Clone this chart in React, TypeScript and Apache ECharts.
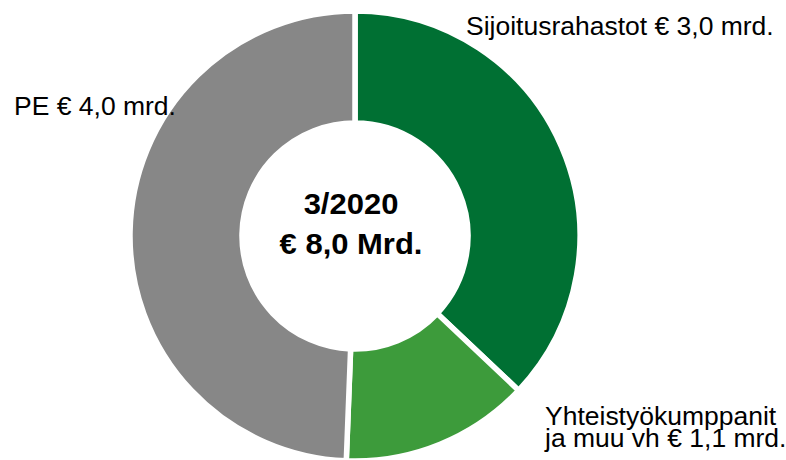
import React, { useEffect, useRef } from "react";
import * as echarts from "echarts";

const categories = ["Sijoitusrahastot", "Yhteistyökumppanit\nja muu vh", "PE"];
const values = [3.0, 1.1, 4.0];
const colors = ["#007033", "#3d9b3b", "#878787"];
const centerTitle = "3/2020";
const centerTotal = "€ 8,0 Mrd.";

const fmt = (v: number) => v.toFixed(1).replace(".", ",");
const labelText = (i: number) => `${categories[i]} € ${fmt(values[i])} mrd.`;

const FONT = "'Liberation Sans', Arial, sans-serif";

export default function App() {
  const ref = useRef<HTMLDivElement>(null);
  useEffect(() => {
    document.body.style.margin = "0";
    const chart = echarts.init(ref.current!, null, { renderer: "svg" });
    const labelStyle = (text: string, extra: any = {}) => ({
      text,
      x: 0,
      y: 0,
      fill: "#000",
      font: `25px ${FONT}`,
      textAlign: "left",
      textVerticalAlign: "middle",
      ...extra,
    });
    const centerStyle = (text: string) => ({
      text,
      x: 0,
      y: 0,
      fill: "#000",
      font: `bold 29.5px ${FONT}`,
      textAlign: "center",
      textVerticalAlign: "middle",
    });
    chart.setOption({
      animation: false,
      backgroundColor: "#fff",
      series: [
        {
          type: "pie",
          z: 1,
          center: [355, 236],
          radius: [113, 225],
          startAngle: 90,
          clockwise: true,
          label: { show: false },
          labelLine: { show: false },
          emphasis: { disabled: true },
          itemStyle: { borderColor: "#fff", borderWidth: 5.5 },
          data: categories.map((c, i) => ({
            name: c,
            value: values[i],
            itemStyle: { color: colors[i] },
          })),
        },
      ],
      graphic: [
        {
          type: "text",
          z: 100,
          x: 466,
          y: 26.7,
          scaleX: 1.06,
          style: labelStyle(labelText(0)),
        },
        {
          type: "text",
          z: 100,
          x: 545,
          y: 427.5,
          scaleX: 1.06,
          style: labelStyle(labelText(1), { lineHeight: 22 }),
        },
        {
          type: "text",
          z: 100,
          x: 14,
          y: 106.5,
          scaleX: 1.06,
          style: labelStyle(labelText(2)),
        },
        {
          type: "text",
          z: 100,
          x: 351,
          y: 203.5,
          scaleX: 1.05,
          style: centerStyle(centerTitle),
        },
        {
          type: "text",
          z: 100,
          x: 351,
          y: 243.3,
          scaleX: 1.05,
          style: centerStyle(centerTotal),
        },
      ],
    });
    return () => chart.dispose();
  }, []);
  return (
    <div
      ref={ref}
      style={{ position: "absolute", left: 0, top: 0, width: 786, height: 460 }}
    />
  );
}
